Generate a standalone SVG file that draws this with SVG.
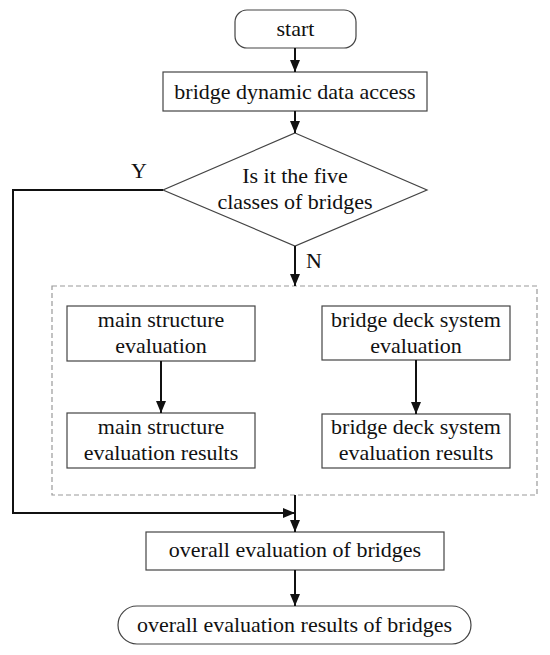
<svg xmlns="http://www.w3.org/2000/svg" width="550" height="655" viewBox="0 0 550 655">
<style>
.n{fill:#fff;stroke:#444;stroke-width:1.2}
.t{font-family:"Liberation Serif","Times New Roman",serif;font-size:22px;fill:#111;text-anchor:middle}
.c{fill:none;stroke:#111;stroke-width:2}
.d{fill:none;stroke:#999;stroke-width:1.2;stroke-dasharray:5 3}
</style>
<defs>
<marker id="a" viewBox="0 0 12 10" refX="12" refY="5" markerWidth="12" markerHeight="10" markerUnits="userSpaceOnUse" orient="auto">
<path d="M0,0 L12,5 L0,10 Z" fill="#111"/>
</marker>
</defs>
<rect width="550" height="655" fill="#fff"/>
<g id="group-box"><rect class="d" x="52" y="286" width="485" height="209"/></g>
<g id="start"><rect class="n" x="235" y="10" width="121" height="38" rx="12"/><text class="t" x="295.5" y="36">start</text></g>
<g id="access"><rect class="n" x="163" y="72" width="264" height="39"/><text class="t" x="295" y="99">bridge dynamic data access</text></g>
<g id="decision"><polygon class="n" points="295,133 427,190 295,246 163,190"/><text class="t" x="295" y="183">Is it the five</text><text class="t" x="295" y="209">classes of bridges</text></g>
<g id="main-eval"><rect class="n" x="67" y="306" width="188" height="55"/><text class="t" x="161" y="327">main structure</text><text class="t" x="161" y="353">evaluation</text></g>
<g id="main-results"><rect class="n" x="67" y="413" width="188" height="55"/><text class="t" x="161" y="434">main structure</text><text class="t" x="161" y="460">evaluation results</text></g>
<g id="deck-eval"><rect class="n" x="322" y="306" width="188" height="54"/><text class="t" x="416" y="327">bridge deck system</text><text class="t" x="416" y="353">evaluation</text></g>
<g id="deck-results"><rect class="n" x="322" y="414" width="188" height="54"/><text class="t" x="416" y="434">bridge deck system</text><text class="t" x="416" y="460">evaluation results</text></g>
<g id="overall"><rect class="n" x="146" y="532" width="298" height="38"/><text class="t" x="295" y="557">overall evaluation of bridges</text></g>
<g id="final"><rect class="n" x="118" y="606" width="353" height="38" rx="19"/><text class="t" x="294.5" y="632">overall evaluation results of bridges</text></g>
<g id="connectors">
<line class="c" x1="295" y1="48" x2="295" y2="72" marker-end="url(#a)"/>
<line class="c" x1="295" y1="111" x2="295" y2="133" marker-end="url(#a)"/>
<line class="c" x1="295" y1="246" x2="295" y2="286" marker-end="url(#a)"/>
<line class="c" x1="161" y1="361" x2="161" y2="413" marker-end="url(#a)"/>
<line class="c" x1="416" y1="360" x2="416" y2="414" marker-end="url(#a)"/>
<line class="c" x1="295" y1="495" x2="295" y2="532" marker-end="url(#a)"/>
<polyline class="c" points="163,190 13,190 13,513 295,513" marker-end="url(#a)"/>
<line class="c" x1="295" y1="570" x2="295" y2="606" marker-end="url(#a)"/>
<text class="t" x="139" y="178">Y</text>
<text class="t" x="314" y="268">N</text>
</g>
</svg>
